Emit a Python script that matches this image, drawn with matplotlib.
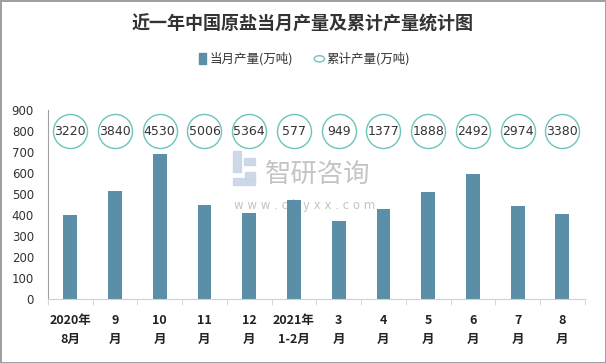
import matplotlib
matplotlib.use("Agg")
import matplotlib.pyplot as plt
import numpy as np

plt.rcParams["font.family"] = ["Noto Sans CJK SC", "DejaVu Sans"]

months = ["2020年\n8月", "9\n月", "10\n月", "11\n月", "12\n月", "2021年\n1-2月",
          "3\n月", "4\n月", "5\n月", "6\n月", "7\n月", "8\n月"]
monthly = [400, 514, 690, 448, 410, 471, 371, 429, 510, 595, 443, 405]
cumulative = [3220, 3840, 4530, 5006, 5364, 577, 949, 1377, 1888, 2492, 2974, 3380]

BAR = "#5b8fa7"
RING = "#6cc4bb"

fig = plt.figure(figsize=(6.06, 3.63), dpi=100)
fig.patch.set_edgecolor("#a0a0a0")
fig.patch.set_linewidth(2)
ax = fig.add_axes([0.079, 0.176, 0.886, 0.521])
ax.patch.set_alpha(0)

x = np.arange(len(months))
ax.bar(x, monthly, width=0.31, color=BAR, zorder=2)
ax.scatter(x, [800] * len(x), s=600, facecolor="white", edgecolor=RING, linewidth=1, zorder=3)
for xi, v in zip(x, cumulative):
    ax.text(xi, 800, str(v), ha="center", va="center", fontsize=9, color="#333333",
            family="DejaVu Sans", zorder=4)

ax.set_xlim(-0.5, len(months) - 0.5)
ax.set_ylim(0, 900)
ax.set_yticks(range(0, 901, 100))
ax.tick_params(axis="y", length=0, labelsize=8.5, labelcolor="#333333", pad=10)
for lab in ax.get_yticklabels():
    lab.set_family("DejaVu Sans")
ax.set_xticks(x)
ax.set_xticklabels(months, fontsize=9, fontweight="bold", color="#222222", linespacing=1.6)
ax.set_xticks(np.arange(-0.5, len(months)), minor=True)
ax.tick_params(axis="x", which="major", length=0, pad=11)
ax.tick_params(axis="x", which="minor", length=4, color="#d0d0d0")
for s in ["top", "right"]:
    ax.spines[s].set_visible(False)
ax.spines["left"].set_color("#a0a0a0")
ax.spines["bottom"].set_color("#d0d0d0")

fig.text(0.5, 0.935, "近一年中国原盐当月产量及累计产量统计图", ha="center", va="center",
         fontsize=13, fontweight="bold", color="#333333")

# watermark (behind the axes)
logo = "#c9d4e6"
for rx, ry, rw, rh in [(0.385, 0.525, 0.012, 0.06), (0.385, 0.49, 0.035, 0.02),
                       (0.402, 0.545, 0.018, 0.02), (0.405, 0.505, 0.015, 0.02)]:
    fig.patches.append(plt.Rectangle((rx, ry), rw, rh, transform=fig.transFigure,
                                     color=logo, alpha=0.9, zorder=-1))
fig.text(0.437, 0.52, "智研咨询", ha="left", va="center", fontsize=19, color="#c4c4c4", zorder=-1)
fig.text(0.386, 0.435, "w w w . c h y x x . c o m", ha="left", va="center", fontsize=8.5,
         color="#c4c4c4", family="DejaVu Sans", zorder=-1)

# legend
fig.patches.append(plt.Rectangle((0.329, 0.824), 0.011, 0.03, transform=fig.transFigure,
                                 color=BAR))
fig.text(0.345, 0.838, "当月产量(万吨)", ha="left", va="center", fontsize=9, color="#333333")
fig.patches.append(matplotlib.patches.Circle((0.527, 0.838), 0.0085, transform=fig.transFigure,
                                             facecolor="white", edgecolor=RING, lw=1))
fig.text(0.538, 0.838, "累计产量(万吨)", ha="left", va="center", fontsize=9, color="#333333")

fig.savefig("out.png", dpi=100)
